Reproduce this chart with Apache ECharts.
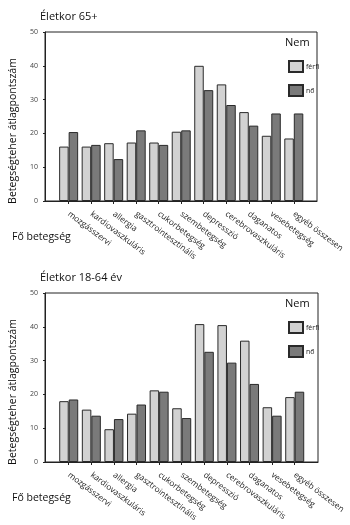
<!DOCTYPE html>
<html>
<head>
<meta charset="utf-8">
<script src="https://cdn.jsdelivr.net/npm/echarts@6/dist/echarts.min.js"></script>
<style>
  html, body { margin: 0; padding: 0; background: #fff; }
  #chart { width: 350px; height: 525px; }
</style>
</head>
<body>
<div id="chart"></div>
<script>
  // kategóriák
  var categories = ['mozgásszervi', 'kardiovaszkuláris', 'allergia', 'gasztrointesztinális',
    'cukorbetegség', 'szembetegség', 'depresszió', 'cerebrovaszkuláris',
    'daganatos', 'vesebetegség', 'egyéb összesen'];
  // Életkor 65+
  var ferfi65 = [16.1, 16.1, 17.1, 17.3, 17.3, 20.5, 40.0, 34.5, 26.3, 19.3, 18.5];
  var no65 = [20.4, 16.6, 12.4, 20.9, 16.6, 20.9, 32.8, 28.4, 22.3, 25.9, 25.9];
  // Életkor 18-64 év
  var ferfi1864 = [18.0, 15.5, 9.7, 14.3, 21.2, 15.9, 40.8, 40.5, 35.9, 16.2, 19.2];
  var no1864 = [18.5, 13.7, 12.7, 17.0, 20.8, 13.0, 32.6, 29.4, 23.1, 13.7, 20.8];
  var yTicks = [0, 10, 20, 30, 40, 50];

  var font = '"Open Sans", "Noto Sans", sans-serif';
  var light = '#d2d2d2', dark = '#7a7a7a', edge = '#2a2a2a';
  var idx = categories.map(function (c, i) { return i; });

  // x tengely számként, hogy a csoportok a keret belsejében legyenek
  function xAxis(gridIndex) {
    return {
      type: 'value',
      gridIndex: gridIndex,
      min: -1.05, max: 11.03,
      splitLine: { show: false },
      axisLine: { lineStyle: { color: '#222', width: 1 } },
      axisTick: { show: true, length: 3, customValues: idx, lineStyle: { color: '#222' } },
      axisLabel: {
        customValues: idx, rotate: -37, margin: 12,
        fontFamily: font, fontSize: 8.3, color: '#222',
        formatter: function (v) { return categories[v] || ''; }
      }
    };
  }

  function yAxis(gridIndex) {
    return {
      type: 'value',
      gridIndex: gridIndex,
      min: yTicks[0], max: yTicks[yTicks.length - 1], interval: 10,
      axisLine: { show: true, onZero: false, lineStyle: { color: '#222', width: 1 } },
      axisTick: { show: true, length: 2, lineStyle: { color: '#222' } },
      splitLine: { show: false },
      axisLabel: { fontFamily: font, fontSize: 7, color: '#444', margin: 7 }
    };
  }

  function bar(name, data, axis, color) {
    return {
      name: name, type: 'bar', xAxisIndex: axis, yAxisIndex: axis,
      data: data.map(function (v, i) { return [i, v]; }),
      barWidth: 9.5, barGap: '0%',
      itemStyle: { color: color, borderColor: edge, borderWidth: 1 }
    };
  }

  function legend(top) {
    return {
      orient: 'vertical', left: 283, top: top, itemGap: 11,
      itemWidth: 14, itemHeight: 11, icon: 'rect',
      data: ['férfi', 'nő'], selectedMode: false,
      textStyle: { fontFamily: font, fontSize: 7, color: '#222', padding: [0, 0, 0, -2] }
    };
  }

  function txt(x, y, s, size, rot) {
    return {
      type: 'text', x: x, y: y, rotation: rot || 0,
      style: {
        text: s, fontFamily: font, fontSize: size, fill: '#111',
        textAlign: rot ? 'center' : 'left', textVerticalAlign: 'middle'
      }
    };
  }

  var chart = echarts.init(document.getElementById('chart'));
  chart.setOption({
    animation: false,
    grid: [
      { left: 45, top: 32, width: 272, height: 169, show: true, borderColor: '#222', borderWidth: 1 },
      { left: 45, top: 293, width: 273, height: 169, show: true, borderColor: '#222', borderWidth: 1 }
    ],
    xAxis: [xAxis(0), xAxis(1)],
    yAxis: [yAxis(0), yAxis(1)],
    legend: [legend(55), legend(316)],
    series: [
      bar('férfi', ferfi65, 0, light),
      bar('nő', no65, 0, dark),
      bar('férfi', ferfi1864, 1, light),
      bar('nő', no1864, 1, dark)
    ],
    graphic: [
      txt(40, 17, 'Életkor 65+', 11),
      txt(40, 278, 'Életkor 18-64 év', 11),
      txt(285, 43, 'Nem', 11),
      txt(285, 304, 'Nem', 11),
      txt(12, 237, 'Fő betegség', 10.5),
      txt(12, 498, 'Fő betegség', 10.5),
      txt(13, 131, 'Betegségteher átlagpontszám', 10.5, Math.PI / 2),
      txt(13, 392, 'Betegségteher átlagpontszám', 10.5, Math.PI / 2)
    ]
  });
</script>
</body>
</html>
